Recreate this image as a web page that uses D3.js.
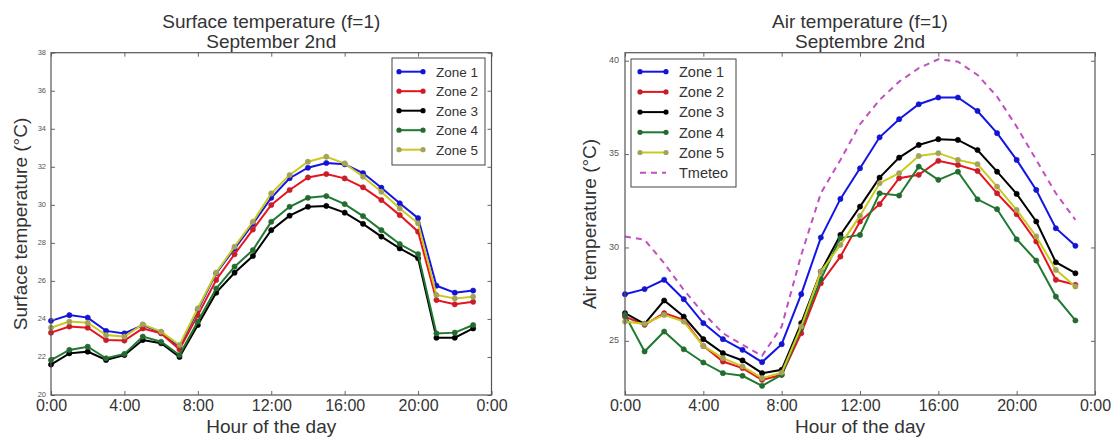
<!DOCTYPE html>
<html>
<head>
  <meta charset="utf-8" />
  <script src="https://cdn.jsdelivr.net/npm/d3@7"></script>
  <style>
    body { margin: 0; background: #fff; }
    svg { display: block; font-family: "Liberation Sans", Arial, sans-serif; }
    .frame { fill: none; stroke: #555; stroke-width: 1.2px; }
    .axis path { display: none; }
    .axis line { stroke: #666; }
    .series { fill: none; stroke-width: 2px; }
  </style>
</head>
<body>
<script>
  "use strict";

  var hours = [0, 1, 2, 3, 4, 5, 6, 7, 8, 9, 10, 11, 12, 13, 14, 15, 16, 17, 18, 19, 20, 21, 22, 23];
  var hourTicks = [0, 4, 8, 12, 16, 20, 24];
  var zoneNames = ["Zone 1", "Zone 2", "Zone 3", "Zone 4", "Zone 5"];

  // Surface temperature, September 2nd
  var surfZone1 = [23.9, 24.2, 24.07, 23.37, 23.24, 23.68, 23.3, 22.54, 24.47, 26.4, 27.7, 29.0, 30.37, 31.4, 31.95, 32.2, 32.13, 31.67, 30.9, 30.08, 29.3, 25.75, 25.38, 25.49];
  var surfZone2 = [23.28, 23.6, 23.54, 22.89, 22.86, 23.5, 23.24, 22.4, 24.2, 26.05, 27.4, 28.7, 29.99, 30.78, 31.44, 31.62, 31.39, 30.92, 30.25, 29.46, 28.59, 24.99, 24.77, 24.9];
  var surfZone3 = [21.6, 22.19, 22.28, 21.84, 22.1, 22.89, 22.72, 22.0, 23.68, 25.38, 26.43, 27.31, 28.67, 29.43, 29.9, 29.94, 29.59, 29.0, 28.33, 27.71, 27.19, 23.01, 23.01, 23.5];
  var surfZone4 = [21.84, 22.37, 22.54, 21.93, 22.16, 23.07, 22.8, 22.1, 23.86, 25.6, 26.75, 27.62, 29.11, 29.9, 30.37, 30.46, 30.04, 29.41, 28.67, 27.94, 27.41, 23.24, 23.28, 23.68];
  var surfZone5 = [23.54, 23.86, 23.8, 23.15, 23.07, 23.72, 23.33, 22.63, 24.56, 26.44, 27.8, 29.11, 30.6, 31.57, 32.27, 32.53, 32.18, 31.48, 30.69, 29.81, 29.03, 25.26, 25.08, 25.17];

  // Air temperature, September 2nd
  var airZone1 = [27.5, 27.77, 28.27, 27.23, 25.95, 25.09, 24.52, 23.86, 24.82, 27.5, 30.53, 32.6, 34.24, 35.9, 36.87, 37.67, 38.03, 38.03, 37.31, 36.12, 34.69, 33.08, 31.03, 30.09];
  var airZone2 = [26.3, 25.86, 26.48, 26.12, 24.73, 23.89, 23.54, 22.91, 23.18, 25.41, 28.09, 29.51, 31.39, 32.32, 33.71, 33.89, 34.64, 34.42, 34.1, 32.9, 31.78, 30.32, 28.27, 28.0];
  var airZone3 = [26.48, 25.91, 27.16, 26.3, 25.09, 24.34, 23.95, 23.27, 23.45, 25.95, 28.71, 30.67, 32.19, 33.74, 34.81, 35.49, 35.8, 35.76, 35.22, 34.06, 32.87, 31.39, 29.21, 28.62];
  var airZone4 = [26.39, 24.43, 25.5, 24.55, 23.84, 23.27, 23.13, 22.59, 23.18, 25.68, 28.3, 30.5, 30.67, 32.9, 32.78, 34.33, 33.62, 34.06, 32.58, 32.05, 30.44, 29.3, 27.37, 26.09];
  var airZone5 = [26.03, 25.91, 26.39, 26.03, 24.73, 24.07, 23.63, 23.0, 23.3, 25.77, 28.71, 30.14, 31.69, 33.44, 33.98, 34.9, 35.05, 34.69, 34.46, 33.26, 32.01, 30.59, 28.8, 27.91];
  var airTmeteo = [30.59, 30.41, 29.16, 27.73, 26.48, 25.41, 24.79, 24.2, 25.77, 29.6, 32.9, 34.69, 36.6, 37.9, 38.88, 39.6, 40.08, 39.95, 39.24, 38.08, 36.47, 34.69, 32.9, 31.48];

  var lineColors = ["#1414e6", "#e6141e", "#000000", "#1f7a2f", "#caca1e"];
  var markColors = ["#1414d0", "#c81e28", "#000000", "#236b30", "#a3a35a"];
  var meteoColor = "#c050c0";

  var svg = d3.select("body").append("svg")
    .attr("width", 1118)
    .attr("height", 439);

  function panel(opt) {
    var x = d3.scaleLinear().domain([0, 24]).range([opt.left, opt.right]);
    var y = d3.scaleLinear().domain(opt.yDomain).range([395, 52.7]);
    var g = svg.append("g");

    // Series
    var line = d3.line()
      .x(function(d, i) { return x(hours[i]); })
      .y(function(d) { return y(d); });

    opt.series.forEach(function(s, k) {
      g.append("path")
        .attr("class", "series")
        .attr("d", line(s))
        .attr("stroke", lineColors[k]);
      g.selectAll(null).data(s).enter().append("circle")
        .attr("cx", function(d, i) { return x(hours[i]); })
        .attr("cy", function(d) { return y(d); })
        .attr("r", 2.6)
        .attr("fill", markColors[k])
        .attr("stroke", markColors[k])
        .attr("stroke-width", 0.6);
    });

    if (opt.meteo) {
      g.append("path")
        .attr("class", "series")
        .attr("d", line(opt.meteo))
        .attr("stroke", meteoColor)
        .attr("stroke-dasharray", "6,5");
    }

    // Axes, ticks pointing inward on all four sides
    g.append("g").attr("class", "axis")
      .attr("transform", "translate(0,395)")
      .call(d3.axisBottom(x).tickValues(hourTicks).tickSize(-4).tickPadding(5)
        .tickFormat(function(h) { return (h % 24) + ":00"; }))
      .selectAll("text").attr("font-size", 16).attr("fill", "#333")
      .attr("font-family", "Liberation Sans, Arial, sans-serif");
    g.append("g").attr("class", "axis")
      .attr("transform", "translate(0,52.7)")
      .call(d3.axisTop(x).tickValues(hourTicks).tickSize(-4).tickFormat(""));
    g.append("g").attr("class", "axis")
      .attr("transform", "translate(" + opt.left + ",0)")
      .call(d3.axisLeft(y).tickValues(opt.yTicks).tickSize(-4).tickPadding(opt.yPad))
      .selectAll("text").attr("font-size", opt.yFont).attr("fill", "#555")
      .attr("dy", "0.2em")
      .attr("font-family", "Liberation Sans, Arial, sans-serif");
    g.append("g").attr("class", "axis")
      .attr("transform", "translate(" + opt.right + ",0)")
      .call(d3.axisRight(y).tickValues(opt.yTicks).tickSize(-4).tickFormat(""));

    g.append("rect").attr("class", "frame")
      .attr("x", opt.left).attr("y", 52.7)
      .attr("width", opt.right - opt.left).attr("height", 395 - 52.7);

    // Titles and labels
    var cx = (opt.left + opt.right) / 2;
    g.append("text").attr("x", cx).attr("y", 28).attr("text-anchor", "middle")
      .attr("font-size", 19).attr("fill", "#333").text(opt.title[0]);
    g.append("text").attr("x", cx).attr("y", 48).attr("text-anchor", "middle")
      .attr("font-size", 19).attr("fill", "#333").text(opt.title[1]);
    g.append("text").attr("x", cx).attr("y", 433).attr("text-anchor", "middle")
      .attr("font-size", 19).attr("fill", "#333").text("Hour of the day");
    g.append("text")
      .attr("transform", "translate(" + opt.yLabelX + ",224) rotate(-90)")
      .attr("text-anchor", "middle")
      .attr("font-size", 19).attr("fill", "#333").text(opt.yLabel);

    // Legend
    var L = opt.legend;
    var names = zoneNames.slice();
    if (opt.meteo) names.push("Tmeteo");
    g.append("rect")
      .attr("x", L.x).attr("y", L.y).attr("width", L.w).attr("height", L.h)
      .attr("fill", "#fff").attr("stroke", "#444").attr("stroke-width", 1);
    names.forEach(function(name, k) {
      var ry = L.row0 + k * L.step;
      var meteo = name === "Tmeteo";
      g.append("line")
        .attr("x1", L.x + L.lineX0).attr("x2", L.x + L.lineX1)
        .attr("y1", ry).attr("y2", ry)
        .attr("stroke", meteo ? meteoColor : lineColors[k])
        .attr("stroke-width", 2)
        .attr("stroke-dasharray", meteo ? "6,5" : null);
      if (!meteo) {
        [L.x + L.lineX0, L.x + L.lineX1].forEach(function(px) {
          g.append("circle").attr("cx", px).attr("cy", ry).attr("r", 2.6)
            .attr("fill", markColors[k]);
        });
      }
      g.append("text").attr("x", L.x + L.textX).attr("y", ry + L.font * 0.36)
        .attr("font-size", L.font).attr("fill", "#333").text(name);
    });
  }

  panel({
    left: 51, right: 491.5,
    yDomain: [20, 38],
    yTicks: [20, 22, 24, 26, 28, 30, 32, 34, 36, 38],
    yFont: 7.5, yPad: 5,
    series: [surfZone1, surfZone2, surfZone3, surfZone4, surfZone5],
    title: ["Surface temperature (f=1)", "September 2nd"],
    yLabel: "Surface temperature (\u00b0C)", yLabelX: 27,
    legend: { x: 392, y: 58, w: 93, h: 107, row0: 71.7, step: 19.5,
      lineX0: 7, lineX1: 31, textX: 44, font: 13.5 }
  });

  panel({
    left: 625, right: 1095,
    yDomain: [22.1, 40.43],
    yTicks: [25, 30, 35, 40],
    yFont: 9, yPad: 6,
    series: [airZone1, airZone2, airZone3, airZone4, airZone5],
    meteo: airTmeteo,
    title: ["Air temperature (f=1)", "Septembre 2nd"],
    yLabel: "Air temperature (\u00b0C)", yLabelX: 596,
    legend: { x: 631, y: 59, w: 105, h: 128, row0: 71.7, step: 20.2,
      lineX0: 9, lineX1: 35, textX: 48, font: 14.5 }
  });
</script>
</body>
</html>
